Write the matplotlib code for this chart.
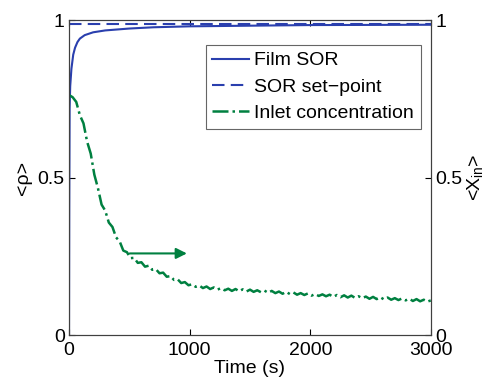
import numpy as np
import matplotlib
matplotlib.use("Agg")
import matplotlib.pyplot as plt

plt.rcParams['font.family'] = ['Liberation Sans', 'DejaVu Sans']
plt.rcParams['mathtext.fontset'] = 'custom'
plt.rcParams['mathtext.rm'] = 'Liberation Sans'
plt.rcParams['mathtext.it'] = 'Liberation Sans'

# Film SOR (left axis)
sor_t = [0, 2, 5, 10, 20, 35, 50, 70, 90, 130, 200, 300, 500, 700, 1000, 1500, 2000, 3000]
sor_v = [0.0, 0.40, 0.72, 0.79, 0.845, 0.89, 0.912, 0.93, 0.941, 0.952, 0.961, 0.967,
         0.973, 0.977, 0.980, 0.982, 0.984, 0.985]
setpoint = 0.987

# Inlet concentration (right axis), sampled every 30 s
inlet_t = np.arange(0, 3001, 30)
inlet_v = [0.762, 0.755, 0.740, 0.698, 0.672, 0.614, 0.576, 0.509, 0.466, 0.414,
           0.395, 0.357, 0.343, 0.310, 0.297, 0.268, 0.263, 0.244, 0.245, 0.229,
           0.231, 0.217, 0.220, 0.207, 0.209, 0.196, 0.198, 0.185, 0.187, 0.175,
           0.177, 0.165, 0.168, 0.158, 0.161, 0.153, 0.157, 0.149, 0.154, 0.146,
           0.151, 0.144, 0.149, 0.142, 0.147, 0.140, 0.146, 0.139, 0.145, 0.138,
           0.144, 0.137, 0.142, 0.136, 0.141, 0.134, 0.140, 0.133, 0.138, 0.131,
           0.137, 0.130, 0.135, 0.128, 0.133, 0.127, 0.132, 0.125, 0.130, 0.124,
           0.129, 0.123, 0.128, 0.121, 0.127, 0.120, 0.126, 0.119, 0.125, 0.118,
           0.123, 0.117, 0.122, 0.115, 0.121, 0.114, 0.120, 0.113, 0.119, 0.112,
           0.117, 0.111, 0.116, 0.110, 0.115, 0.108, 0.114, 0.107, 0.112, 0.106,
           0.110]

blue = '#2a3fae'
green = '#008040'
fs = 14

fig = plt.figure(figsize=(4.95, 3.8), dpi=100)
ax = fig.add_axes([0.1394, 0.1184, 0.7313, 0.8289])
ax2 = ax.twinx()

l1, = ax.plot(sor_t, sor_v, color=blue, lw=1.5, label='Film SOR')
l2 = ax.axhline(setpoint, color=blue, lw=1.5, ls=(0, (6, 3)), label='SOR set\u2212point')
l3, = ax2.plot(inlet_t, inlet_v, color=green, lw=1.8, ls='-.', label='Inlet concentration')

ax2.annotate('', xy=(1000, 0.259), xytext=(480, 0.259),
             arrowprops=dict(arrowstyle='-|>', color=green, lw=1.5, mutation_scale=16))

for a in (ax, ax2):
    a.set_xlim(0, 3000)
    a.set_ylim(0, 1)
    a.set_yticks([0, 0.5, 1])
    a.set_yticklabels(['0', '0.5', '1'])
    a.tick_params(direction='in', labelsize=fs, length=4, pad=3)
ax.set_xticks([0, 1000, 2000, 3000])
ax.tick_params(axis='x', top=True, pad=5)
ax.set_xlabel('Time (s)', fontsize=fs, labelpad=1)
ax.set_ylabel('<\u03c1>', fontsize=fs, labelpad=4)
ax2.set_ylabel('<X$_{\\mathrm{in}}$>', fontsize=fs, labelpad=2)

leg = ax2.legend(handles=[l1, l2, l3], loc='upper right', bbox_to_anchor=(0.972, 0.921),
                 fontsize=fs, frameon=True, fancybox=False, edgecolor='#404040',
                 handlelength=1.9, handletextpad=0.25, borderpad=0.35, labelspacing=0.45,
                 borderaxespad=0)
leg.get_frame().set_linewidth(0.8)

for a in (ax, ax2):
    for s in a.spines.values():
        s.set_color('#404040')
        s.set_linewidth(0.8)

fig.savefig('out.png', dpi=100)
